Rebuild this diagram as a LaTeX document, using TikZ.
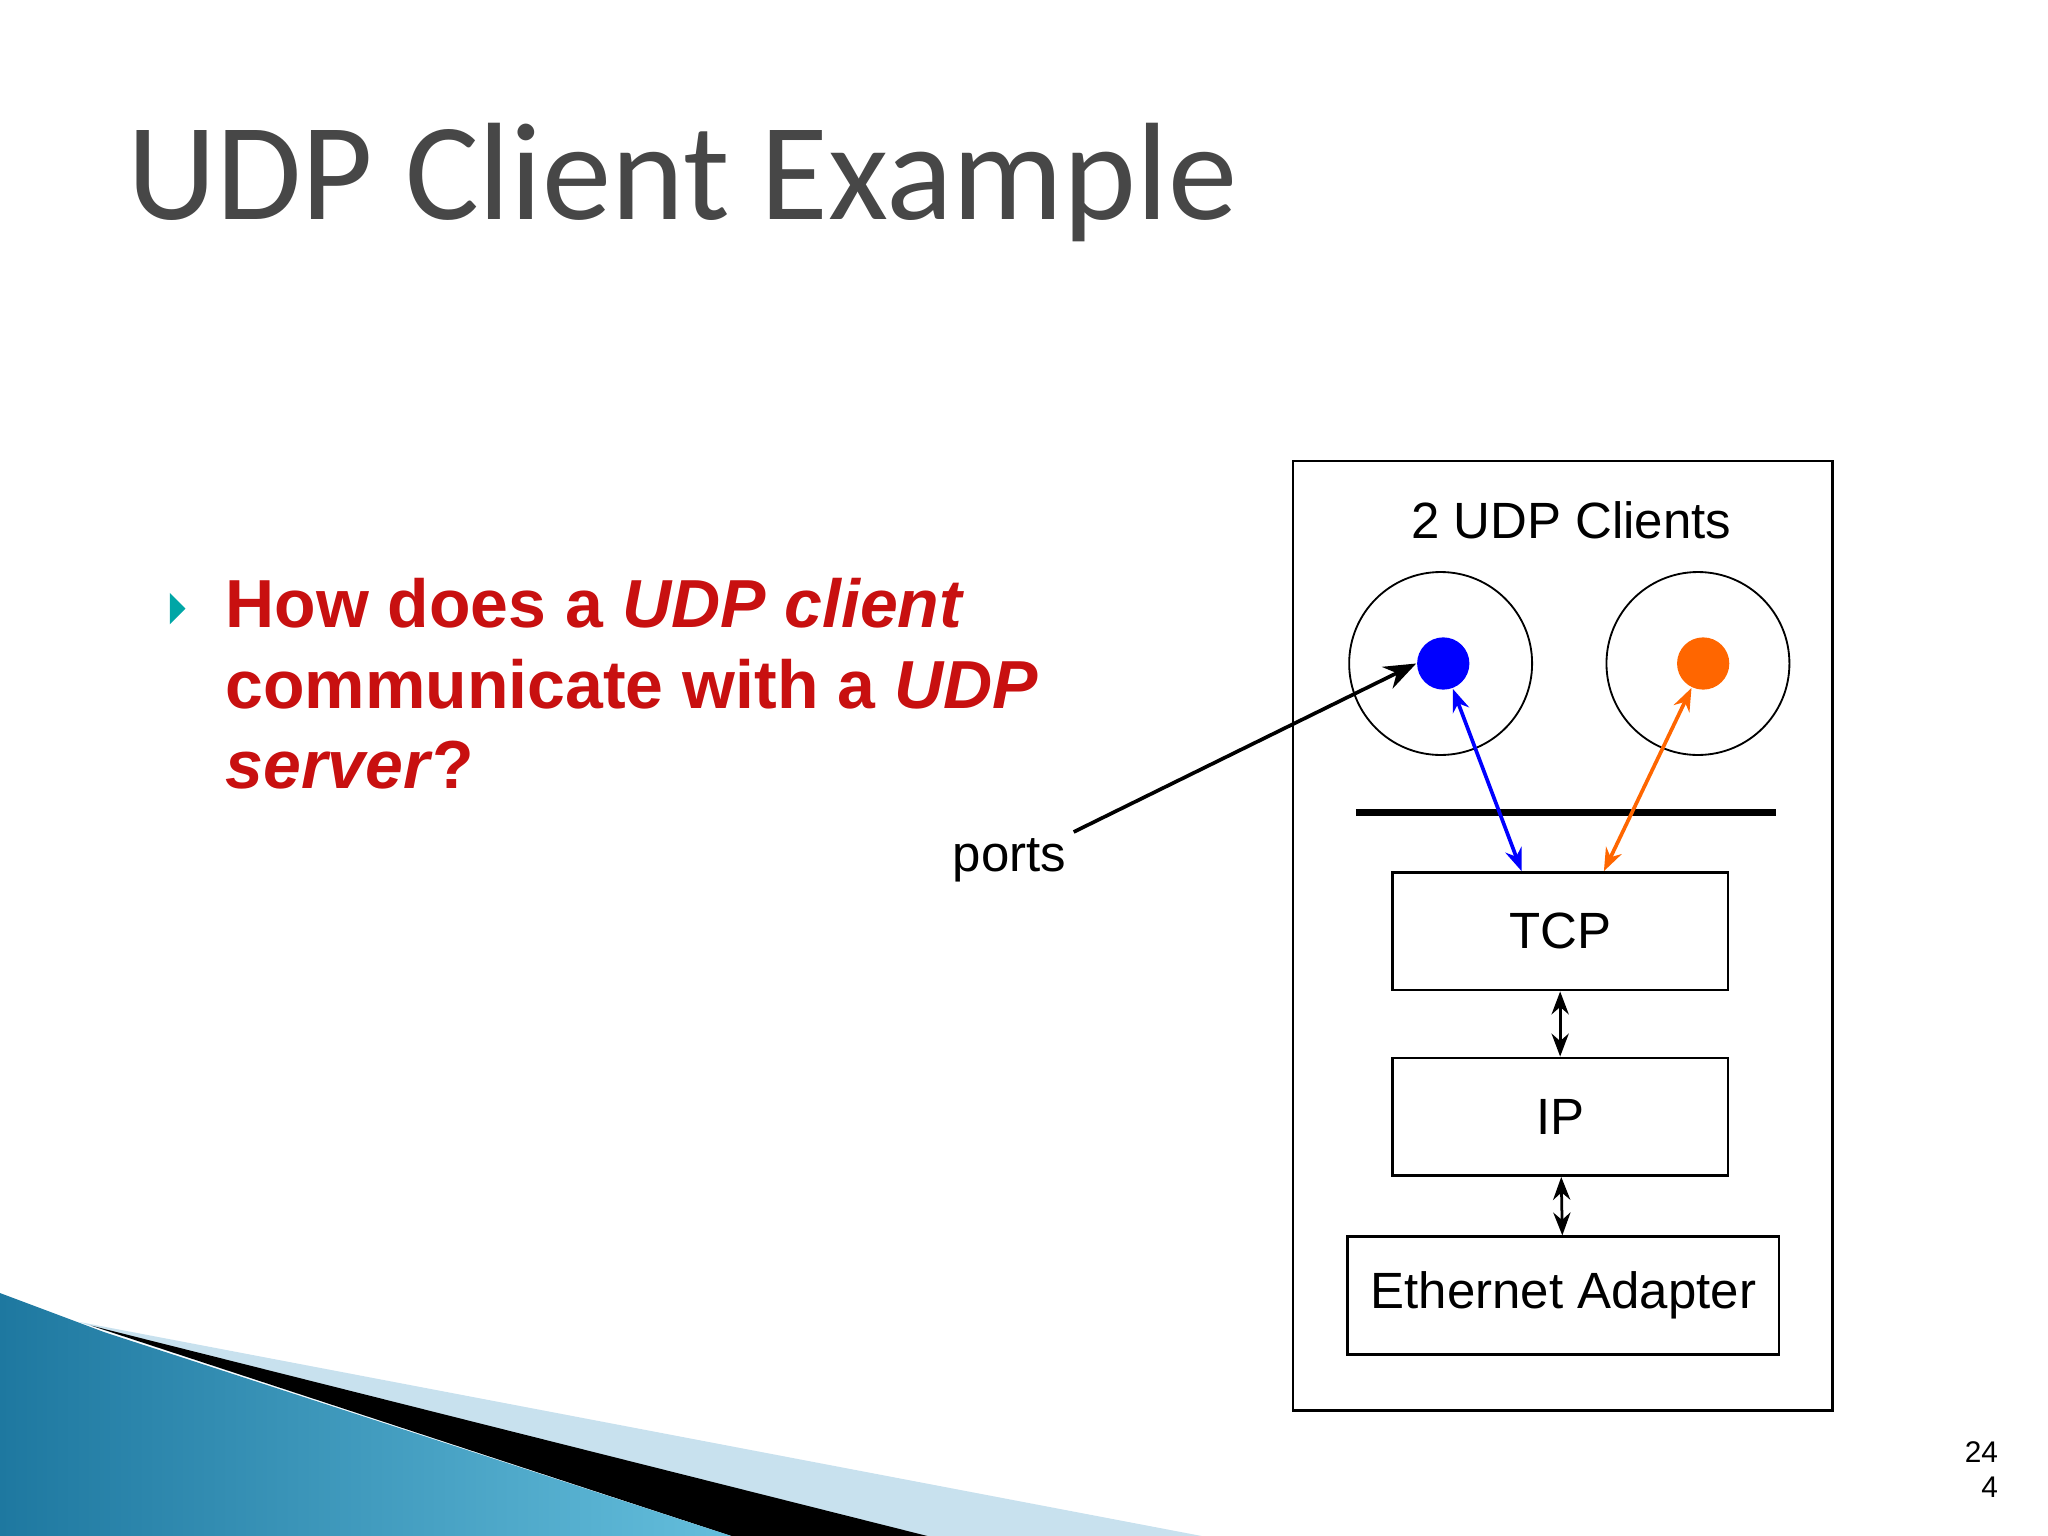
\documentclass[tikz,border=0pt]{standalone}
\usepackage{fontspec}
\setmainfont{Liberation Sans}
\newfontfamily\titlefont{Carlito}
\usetikzlibrary{arrows.meta}
\definecolor{udpred}{RGB}{200,16,16}
\definecolor{udporange}{RGB}{255,102,0}
\definecolor{teal1}{RGB}{30,120,160}
\definecolor{teal2}{RGB}{100,190,220}
\definecolor{lightb}{RGB}{200,225,238}
\tikzset{layer/.style={draw,semithick,minimum width=2.57cm,minimum height=0.9cm,font=\fontsize{11.1}{13}\selectfont},
 dbl/.style={{Stealth[length=5pt]}-{Stealth[length=5pt]},semithick}}
\begin{document}
\begin{tikzpicture}[x=0.01cm,y=-0.01cm]
\useasboundingbox (0,0) rectangle (1568,1176);
% bottom decoration
\fill[lightb] (60,1012) -- (920,1176) -- (560,1176) -- cycle;
\fill[black] (70,1015) -- (710,1176) -- (560,1176) -- cycle;
\shade[left color=teal1,right color=teal2] (0,990) -- (80,1020) -- (560,1176) -- (0,1176) -- cycle;
% title
\node[anchor=base west,inner sep=0,font=\titlefont\fontsize{30.2}{36}\selectfont,text=black!72] (title) at (97,168) {UDP Client Example};
% bullet
\fill[teal!70!cyan] (130,454) -- (142,466) -- (130,478) -- cycle;
\node[anchor=base west,inner sep=0,align=left,text=udpred,font=\bfseries\fontsize{14.8}{17.6}\selectfont] (q) at (172,604)
 {How does a \textit{UDP client}\\communicate with a \textit{UDP}\\\textit{server}?};
% outer box
\draw[semithick] (990,353) rectangle (1403,1080);
\node[font=\fontsize{11.1}{13}\selectfont] (hdr) at (1203,398) {2 UDP Clients};
\node[draw,circle,minimum size=1.4cm,inner sep=0] (c1) at (1103,508) {};
\node[draw,circle,minimum size=1.4cm,inner sep=0] (c2) at (1300,508) {};
\node[fill=blue,circle,minimum size=0.4cm,inner sep=0] (d1) at (1105,508) {};
\node[fill=udporange,circle,minimum size=0.4cm,inner sep=0] (d2) at (1304,508) {};
\draw[line width=1.5pt] (1038,622) -- (1360,622);
\node[layer] (tcp) at (1194.5,713) {TCP};
\node[layer] (ip) at (1194.5,855) {IP};
\node[layer,minimum width=3.3cm] (eth) at (1197,992) {Ethernet Adapter};
\coordinate (t1) at (1165,667);
\coordinate (t2) at (1228,667);
\draw[dbl,blue,thick] (d1) -- (t1);
\draw[dbl,udporange,thick] (d2) -- (t2);
\draw[dbl] (tcp) -- (ip);
\draw[dbl] (ip) -- (eth);
\node[anchor=base,font=\fontsize{11.1}{13}\selectfont] (ports) at (773,667) {ports};
\coordinate (p0) at (822,637);
\draw[-{Stealth[length=7pt]},thick] (p0) -- (d1.west);
\node[align=right,font=\fontsize{6.5}{7.5}\selectfont,inner sep=0] (pg) at (1517,1125) {24\\4};
\end{tikzpicture}
\end{document}
